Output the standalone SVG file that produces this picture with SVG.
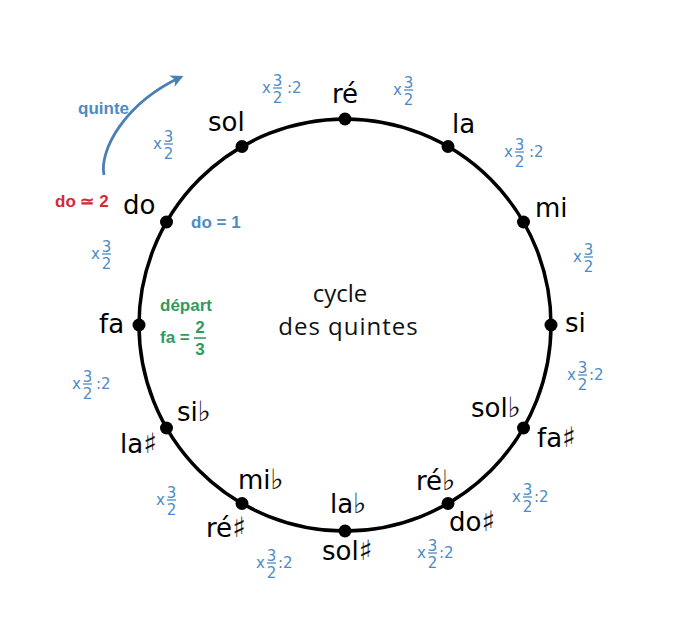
<svg xmlns="http://www.w3.org/2000/svg" width="700" height="632" viewBox="0 0 700 632">
<defs>
<style>
.n{font-family:"DejaVu Sans",sans-serif;font-size:26px;fill:#000}
.acc{font-family:"DejaVu Sans",sans-serif;font-size:28px;fill:#111}
.b{font-family:"DejaVu Sans",sans-serif;font-size:15px;fill:#4f8ac4}
.bar{stroke:#4f8ac4;stroke-width:1.3}
.lb{font-family:"Liberation Sans",Arial,sans-serif;font-weight:bold;font-size:17px}
.dot{fill:#000}
.ctr{font-family:"Open Sans",sans-serif;font-size:24px;fill:#111}
</style>
<marker id="ah" viewBox="0 0 10 10" refX="8" refY="5" markerWidth="4.5" markerHeight="4.5" orient="auto" markerUnits="strokeWidth">
<path d="M0,0 L10,5 L0,10 L3,5 Z" fill="#4a7fb5"/>
</marker>
</defs>
<rect width="700" height="632" fill="#fff"/>

<g id="connectors">
<circle cx="345" cy="325" r="206" fill="none" stroke="#000" stroke-width="3.5"/>
<path d="M104,175 C99,150 125,103 181,77" fill="none" stroke="#4a7fb5" stroke-width="2.8" marker-end="url(#ah)"/>
</g>

<g id="n-re"><circle class="dot" cx="345" cy="119" r="6.5"/><text class="n" x="345" y="103" text-anchor="middle">ré</text></g>
<g id="n-la"><circle class="dot" cx="448" cy="146.5" r="6.5"/><text class="n" x="452" y="133">la</text></g>
<g id="n-mi"><circle class="dot" cx="523.5" cy="222" r="6.5"/><text class="n" x="535" y="217">mi</text></g>
<g id="n-si"><circle class="dot" cx="551" cy="325" r="6.5"/><text class="n" x="565" y="332">si</text></g>
<g id="n-fas"><circle class="dot" cx="523.5" cy="428" r="6.5"/><text class="n" x="471" y="417">sol<tspan class="acc">♭</tspan></text><text class="n" x="537" y="447">fa<tspan class="acc">♯</tspan></text></g>
<g id="n-dos"><circle class="dot" cx="448" cy="503.5" r="6.5"/><text class="n" x="416" y="490">ré<tspan class="acc">♭</tspan></text><text class="n" x="449" y="531">do<tspan class="acc">♯</tspan></text></g>
<g id="n-sols"><circle class="dot" cx="345" cy="531" r="6.5"/><text class="n" x="330" y="513">la<tspan class="acc">♭</tspan></text><text class="n" x="322" y="560">sol<tspan class="acc">♯</tspan></text></g>
<g id="n-res"><circle class="dot" cx="242" cy="503.5" r="6.5"/><text class="n" x="238" y="489">mi<tspan class="acc">♭</tspan></text><text class="n" x="206" y="537">ré<tspan class="acc">♯</tspan></text></g>
<g id="n-las"><circle class="dot" cx="166.5" cy="428" r="6.5"/><text class="n" x="177" y="421">si<tspan class="acc">♭</tspan></text><text class="n" x="120" y="453">la<tspan class="acc">♯</tspan></text></g>
<g id="n-fa"><circle class="dot" cx="139" cy="325" r="6.5"/><text class="n" x="99" y="333">fa</text></g>
<g id="n-do"><circle class="dot" cx="166.5" cy="222" r="6.5"/><text class="n" x="123" y="214">do</text></g>
<g id="n-sol"><circle class="dot" cx="242" cy="146.5" r="6.5"/><text class="n" x="208" y="131">sol</text></g>

<g id="a1" transform="translate(262,88)"><text class="b" x="0" y="5">x</text><text class="b" x="15.5" y="-2" text-anchor="middle">3</text><line class="bar" x1="11" y1="0" x2="20" y2="0"/><text class="b" x="15.5" y="15" text-anchor="middle">2</text><text class="b" x="25" y="5">:2</text></g>
<g id="a2" transform="translate(393,90)"><text class="b" x="0" y="5">x</text><text class="b" x="15.5" y="-2" text-anchor="middle">3</text><line class="bar" x1="11" y1="0" x2="20" y2="0"/><text class="b" x="15.5" y="15" text-anchor="middle">2</text></g>
<g id="a3" transform="translate(504,152)"><text class="b" x="0" y="5">x</text><text class="b" x="15.5" y="-2" text-anchor="middle">3</text><line class="bar" x1="11" y1="0" x2="20" y2="0"/><text class="b" x="15.5" y="15" text-anchor="middle">2</text><text class="b" x="25" y="5">:2</text></g>
<g id="a4" transform="translate(573,257)"><text class="b" x="0" y="5">x</text><text class="b" x="15.5" y="-2" text-anchor="middle">3</text><line class="bar" x1="11" y1="0" x2="20" y2="0"/><text class="b" x="15.5" y="15" text-anchor="middle">2</text></g>
<g id="a5" transform="translate(567,375)"><text class="b" x="0" y="5">x</text><text class="b" x="15.5" y="-2" text-anchor="middle">3</text><line class="bar" x1="11" y1="0" x2="20" y2="0"/><text class="b" x="15.5" y="15" text-anchor="middle">2</text><text class="b" x="22" y="5">:2</text></g>
<g id="a6" transform="translate(512,497)"><text class="b" x="0" y="5">x</text><text class="b" x="15.5" y="-2" text-anchor="middle">3</text><line class="bar" x1="11" y1="0" x2="20" y2="0"/><text class="b" x="15.5" y="15" text-anchor="middle">2</text><text class="b" x="22" y="5">:2</text></g>
<g id="a7" transform="translate(417,553)"><text class="b" x="0" y="5">x</text><text class="b" x="15.5" y="-2" text-anchor="middle">3</text><line class="bar" x1="11" y1="0" x2="20" y2="0"/><text class="b" x="15.5" y="15" text-anchor="middle">2</text><text class="b" x="22" y="5">:2</text></g>
<g id="a8" transform="translate(256,563)"><text class="b" x="0" y="5">x</text><text class="b" x="15.5" y="-2" text-anchor="middle">3</text><line class="bar" x1="11" y1="0" x2="20" y2="0"/><text class="b" x="15.5" y="15" text-anchor="middle">2</text><text class="b" x="22" y="5">:2</text></g>
<g id="a9" transform="translate(156,500)"><text class="b" x="0" y="5">x</text><text class="b" x="15.5" y="-2" text-anchor="middle">3</text><line class="bar" x1="11" y1="0" x2="20" y2="0"/><text class="b" x="15.5" y="15" text-anchor="middle">2</text></g>
<g id="a10" transform="translate(72,384)"><text class="b" x="0" y="5">x</text><text class="b" x="15.5" y="-2" text-anchor="middle">3</text><line class="bar" x1="11" y1="0" x2="20" y2="0"/><text class="b" x="15.5" y="15" text-anchor="middle">2</text><text class="b" x="24" y="5">:2</text></g>
<g id="a11" transform="translate(91,254)"><text class="b" x="0" y="5">x</text><text class="b" x="15.5" y="-2" text-anchor="middle">3</text><line class="bar" x1="11" y1="0" x2="20" y2="0"/><text class="b" x="15.5" y="15" text-anchor="middle">2</text></g>
<g id="a12" transform="translate(153,144)"><text class="b" x="0" y="5">x</text><text class="b" x="15.5" y="-2" text-anchor="middle">3</text><line class="bar" x1="11" y1="0" x2="20" y2="0"/><text class="b" x="15.5" y="15" text-anchor="middle">2</text></g>

<g id="quinte"><text class="lb" x="78" y="114" fill="#4f8ac4" font-size="19">quinte</text></g>
<g id="do2"><text class="lb" x="55" y="207" fill="#d42a35">do ≃ 2</text></g>
<g id="do1"><text class="lb" x="191" y="228" fill="#4f8ac4">do = 1</text></g>
<g id="depart">
<text class="lb" x="160" y="311" fill="#2e9b5f" font-size="18.5">départ</text>
<text class="lb" x="160" y="343" fill="#2e9b5f" font-size="18">fa =</text>
<text class="lb" x="200" y="333" fill="#2e9b5f" text-anchor="middle" font-size="18">2</text>
<line x1="194" y1="338" x2="206" y2="338" stroke="#2e9b5f" stroke-width="1.6"/>
<text class="lb" x="200" y="355" fill="#2e9b5f" text-anchor="middle" font-size="18">3</text>
</g>
<g id="title">
<text class="ctr" text-anchor="middle"><tspan x="340" y="302">cycle</tspan><tspan x="348.5" y="335" letter-spacing="1">des quintes</tspan></text>
</g>
</svg>
